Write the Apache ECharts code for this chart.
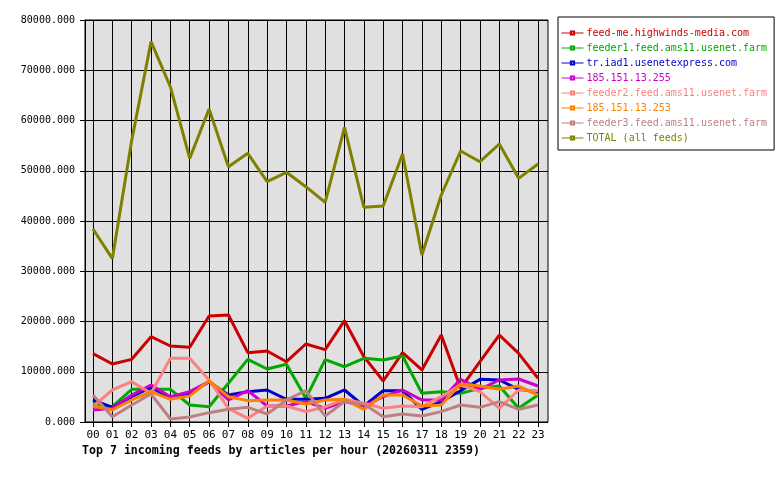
<!DOCTYPE html>
<html>
<head>
<meta charset="utf-8">
<script src="https://cdn.jsdelivr.net/npm/echarts@6/dist/echarts.min.js"></script>
<style>
  html, body { margin: 0; padding: 0; background: #fff; }
  #chart { width: 780px; height: 480px; }
</style>
</head>
<body>
<div id="chart"></div>
<script>
const hours = ["00","01","02","03","04","05","06","07","08","09","10","11",
  "12","13","14","15","16","17","18","19","20","21","22","23"];

const feedNames = [
  "feed-me.highwinds-media.com",
  "feeder1.feed.ams11.usenet.farm",
  "tr.iad1.usenetexpress.com",
  "185.151.13.255",
  "feeder2.feed.ams11.usenet.farm",
  "185.151.13.253",
  "feeder3.feed.ams11.usenet.farm",
  "TOTAL (all feeds)"
];
const feedColors = ["#cc0000", "#00aa00", "#0000cc", "#cc00cc", "#ff8080", "#ff8000", "#c08080", "#808000"];

const highwinds = [13600, 11540, 12470, 16980, 15120, 14860, 21090, 21290, 13800, 14130, 12000, 15520,
  14400, 20160, 13000, 8160, 13800, 10350, 17310, 6700, 12000, 17310, 13670, 8700];
const feeder1 = [3700, 3050, 6500, 6500, 6500, 3380, 3050, 7700, 12470, 10550, 11480, 4710,
  12400, 11000, 12670, 12340, 13130, 5700, 6030, 5700, 6700, 7160, 2720, 5370];
const iad1 = [4380, 2920, 5040, 6900, 4800, 5700, 8020, 5370, 6030, 6370, 4510, 4510,
  4710, 6370, 3180, 6230, 6230, 2520, 4050, 6230, 8490, 8360, 6500, 6030];
const ip255 = [2390, 2720, 5370, 7360, 5040, 6030, 8020, 4380, 6230, 3180, 3180, 4050,
  2720, 4050, 3180, 5040, 6370, 4380, 4380, 8490, 6500, 8360, 8560, 7160];
const feeder2 = [3050, 6370, 8020, 5700, 12670, 12670, 8360, 2720, 730, 3180, 3180, 2060,
  3000, 4510, 3720, 2720, 3180, 3050, 5040, 7360, 6030, 2720, 6370, 6230];
const ip253 = [3180, 2390, 4380, 6030, 4510, 5200, 8230, 5040, 4250, 4380, 4380, 3580,
  4380, 4510, 2520, 5370, 5370, 3180, 3380, 7560, 7160, 6500, 7160, 5370];
const feeder3 = [5370, 1060, 3380, 5570, 600, 1000, 1860, 2520, 2920, 1590, 4380, 6230,
  1190, 4050, 3580, 1060, 1590, 1190, 2060, 3380, 2920, 4050, 2520, 3380];
const total = [38400, 32500, 56000, 75700, 66700, 52470, 62290, 50800, 53470, 47820, 49690, 46830,
  43700, 58640, 42720, 42980, 53330, 33230, 45170, 53930, 51800, 55320, 48490, 51340];

const feedValues = [highwinds, feeder1, iad1, ip255, feeder2, ip253, feeder3, total];

const yTicks = { min: 0, max: 80000, interval: 10000 };

const mono = "DejaVu Sans Mono";

const chart = echarts.init(document.getElementById("chart"));

const option = {
  animation: false,
  backgroundColor: "#ffffff",
  textStyle: { fontFamily: mono },
  grid: [
    // frame + background + horizontal lines
    { left: 85, right: 232, top: 20, bottom: 58, show: true,
      backgroundColor: "#e0e0e0", borderColor: "#000", borderWidth: 1 },
    // data area: first and last hour inset from the frame
    { left: 93, right: 242, top: 20, bottom: 58 }
  ],
  xAxis: [
    { gridIndex: 0, type: "category", data: hours, show: false },
    {
      gridIndex: 1, type: "category", data: hours, boundaryGap: false,
      axisLine: { show: false },
      axisTick: { show: true, length: 5, lineStyle: { color: "#000" }, alignWithLabel: true },
      axisLabel: { color: "#000", fontFamily: mono, fontSize: 11, margin: 8, interval: 0 },
      splitLine: { show: true, interval: 0, lineStyle: { color: "#000", width: 1 } }
    }
  ],
  yAxis: [
    {
      gridIndex: 0, type: "value", min: yTicks.min, max: yTicks.max, interval: yTicks.interval,
      axisLine: { show: true, lineStyle: { color: "#000" } },
      axisTick: { show: true, length: 5, lineStyle: { color: "#000" } },
      axisLabel: { color: "#000", fontFamily: mono, fontSize: 10, margin: 10,
        formatter: v => v.toFixed(3) },
      splitLine: { show: true, lineStyle: { color: "#000", width: 1 } }
    },
    { gridIndex: 1, type: "value", min: yTicks.min, max: yTicks.max, show: false }
  ],
  legend: {
    orient: "vertical",
    left: 558,
    top: 17,
    padding: [11, 7, 7, 3],
    itemGap: 5,
    itemWidth: 22,
    itemHeight: 4,
    backgroundColor: "#fff",
    borderColor: "#000",
    borderWidth: 1,
    lineStyle: { width: 1 },
    itemStyle: { borderWidth: 1 },
    textStyle: { fontFamily: mono, fontSize: 10, lineHeight: 10, padding: [0, 0, 0, -2] },
    data: feedNames.map((n, i) => ({ name: n, textStyle: { color: feedColors[i] } }))
  },
  graphic: [
    {
      type: "text", left: 82, top: 445,
      style: {
        text: "Top 7 incoming feeds by articles per hour (20260311 2359)",
        font: "bold 11.6px 'DejaVu Sans Mono'", fill: "#000"
      }
    }
  ],
  series: feedNames.map((n, i) => ({
    name: n,
    type: "line",
    xAxisIndex: 1,
    yAxisIndex: 1,
    data: feedValues[i],
    symbol: "emptyRect",
    symbolSize: 4,
    showSymbol: false,
    color: feedColors[i],
    lineStyle: { width: 3, color: feedColors[i] },
    emphasis: { disabled: true }
  }))
};

chart.setOption(option);
</script>
</body>
</html>
